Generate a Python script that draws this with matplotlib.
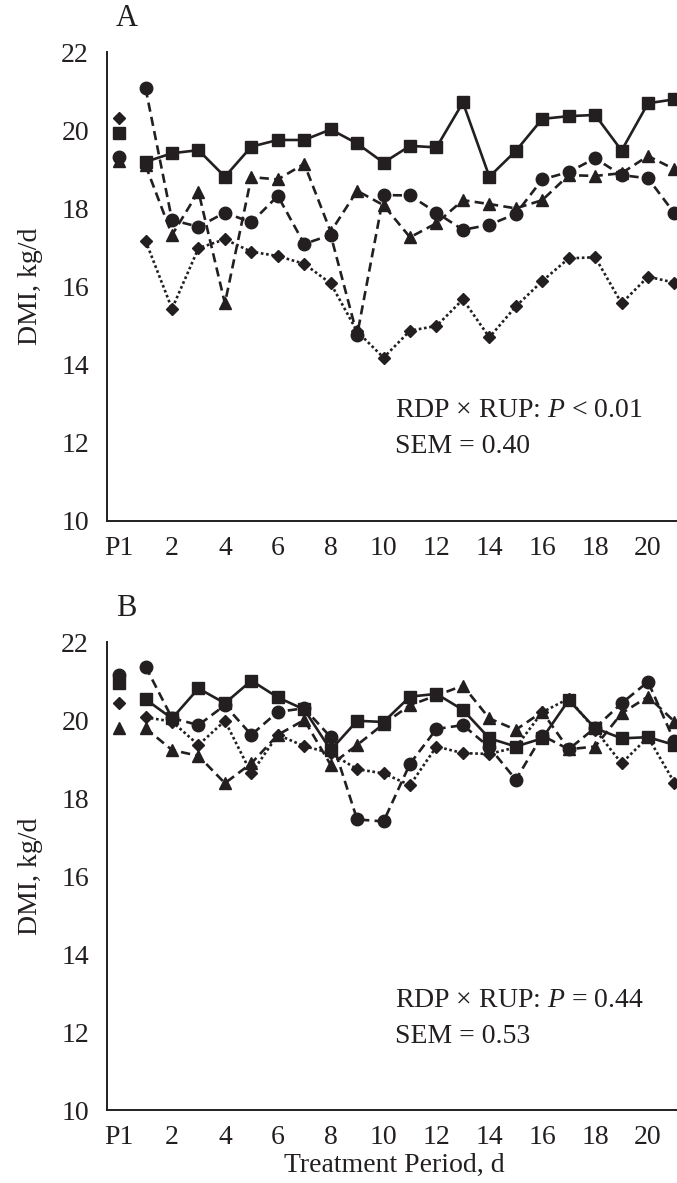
import numpy as np
import matplotlib.pyplot as plt

# x categories: pre-period (P1) then treatment days 1..21
days = np.arange(1, 22)
tick_pos = [0] + list(range(2, 21, 2))
tick_labels = ['P1'] + [str(d) for d in range(2, 21, 2)]

# Panel A
sq_A_p1 = 19.94
sq_A = [19.19, 19.41, 19.49, 18.81, 19.58, 19.75, 19.75, 20.02, 19.66, 19.17, 19.60,
        19.56, 20.71, 18.81, 19.47, 20.29, 20.36, 20.39, 19.48, 20.69, 20.79]
ci_A_p1 = 19.32
ci_A = [21.07, 17.70, 17.53, 17.89, 17.64, 18.32, 17.09, 17.32, 14.76, 18.34, 18.33,
        17.89, 17.45, 17.58, 17.86, 18.74, 18.93, 19.28, 18.85, 18.77, 17.87]
tr_A_p1 = 19.20
tr_A = [19.10, 17.32, 18.43, 15.57, 18.80, 18.74, 19.14, 17.40, 18.45, 18.08, 17.26,
        17.62, 18.21, 18.11, 18.00, 18.21, 18.85, 18.83, 18.90, 19.34, 19.00]
di_A_p1 = 20.30
di_A = [17.17, 15.43, 16.98, 17.21, 16.89, 16.78, 16.58, 16.08, 14.85, 14.18, 14.87,
        14.99, 15.67, 14.70, 15.49, 16.14, 16.72, 16.75, 15.57, 16.25, 16.10]

# Panel B
sq_B_p1 = 20.94
sq_B = [20.53, 20.04, 20.81, 20.43, 21.01, 20.58, 20.27, 19.23, 19.98, 19.95, 20.60,
        20.67, 20.26, 19.53, 19.32, 19.53, 20.51, 19.79, 19.53, 19.56, 19.36]
ci_B_p1 = 21.15
ci_B = [21.37, 20.05, 19.87, 20.38, 19.62, 20.21, 20.30, 19.56, 17.45, 17.40, 18.88,
        19.77, 19.87, 19.30, 18.47, 19.60, 19.25, 19.80, 20.43, 20.98, 19.45]
tr_B_p1 = 19.79
tr_B = [19.79, 19.23, 19.08, 18.38, 18.89, 19.62, 20.00, 18.85, 19.36, 19.90, 20.38,
        20.63, 20.88, 20.04, 19.75, 20.21, 19.25, 19.32, 20.17, 20.60, 19.96]
di_B_p1 = 20.43
di_B = [20.07, 19.96, 19.36, 19.98, 18.63, 19.62, 19.33, 19.15, 18.74, 18.63, 18.33,
        19.32, 19.15, 19.13, 19.30, 20.20, 20.55, 19.75, 18.89, 19.56, 18.39]

plt.rcParams['font.family'] = ['Liberation Serif', 'DejaVu Serif']
plt.rcParams['mathtext.fontset'] = 'custom'
plt.rcParams['mathtext.rm'] = 'Liberation Serif'
plt.rcParams['mathtext.it'] = 'Liberation Serif:italic'
ink = '#231f20'
fs = 20

fig = plt.figure(figsize=(6.77, 11.83), dpi=100)
axA = fig.add_axes([0.158, 0.5596, 0.85, 0.3964])
axB = fig.add_axes([0.158, 0.0617, 0.85, 0.3956])

styles = [
    ('s', '-', 9.0),
    ('o', (0, (3.5, 2)), 9.0),
    ('^', (0, (3.5, 2)), 9.0),
    ('D', (0, (1, 1)), 6.5),
]


def draw_panel(ax, series, letter, stat_text, sem_text):
    for (p1, vals), (mk, ls, ms) in zip(series, styles):
        ax.plot(days, vals, color=ink, linestyle=ls, linewidth=1.9,
                marker=mk, markersize=ms, markerfacecolor=ink, markeredgecolor=ink)
        ax.plot([0], [p1], linestyle='none', marker=mk, markersize=ms, color=ink)
    ax.set_xlim(-0.46, 21.3)
    ax.set_ylim(10, 22)
    ax.set_yticks(range(10, 23, 2))
    ax.set_xticks(tick_pos)
    ax.set_xticklabels(tick_labels)
    ax.tick_params(length=0, labelsize=fs, colors=ink)
    ax.tick_params(axis='x', pad=11)
    ax.tick_params(axis='y', pad=13)
    for s in ['top', 'right']:
        ax.spines[s].set_visible(False)
    for s in ['left', 'bottom']:
        ax.spines[s].set_color(ink)
        ax.spines[s].set_linewidth(1.4)
    ax.set_ylabel('DMI, kg/d', fontsize=fs, color=ink, labelpad=13)
    ax.text(0.015, 1.072, letter, transform=ax.transAxes, fontsize=22, color=ink,
            ha='left', va='center')
    ax.text(0.50, 0.235, stat_text, transform=ax.transAxes, fontsize=fs, color=ink,
            ha='left', va='center')
    ax.text(0.50, 0.158, sem_text, transform=ax.transAxes, fontsize=fs, color=ink,
            ha='left', va='center')


draw_panel(axA, [(sq_A_p1, sq_A), (ci_A_p1, ci_A), (tr_A_p1, tr_A), (di_A_p1, di_A)],
           'A', 'RDP × RUP: $\\mathit{P}$ < 0.01', 'SEM = 0.40')
draw_panel(axB, [(sq_B_p1, sq_B), (ci_B_p1, ci_B), (tr_B_p1, tr_B), (di_B_p1, di_B)],
           'B', 'RDP × RUP: $\\mathit{P}$ = 0.44', 'SEM = 0.53')
axB.set_xlabel('Treatment Period, d', fontsize=fs, color=ink, labelpad=2)

fig.savefig('out.png', dpi=100)
